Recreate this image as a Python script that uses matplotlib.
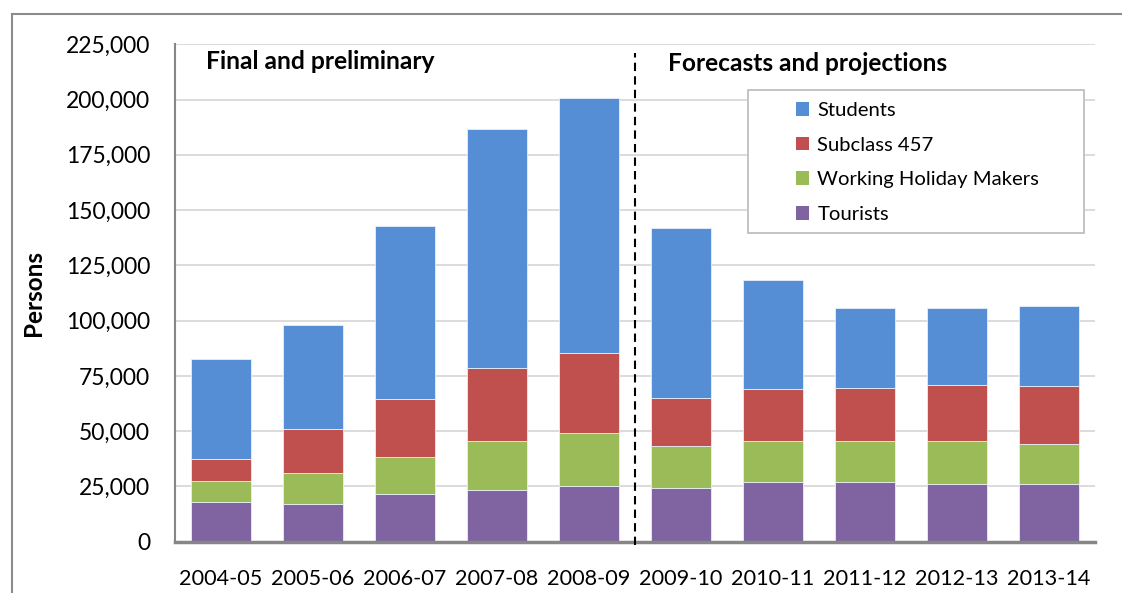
import numpy as np
import matplotlib
matplotlib.use('Agg')
import matplotlib.pyplot as plt
from matplotlib.patches import Rectangle, Patch
from matplotlib.ticker import FuncFormatter

plt.rcParams['font.family'] = ['Lato', 'DejaVu Sans']

# Datos (personas)
years = ['2004-05', '2005-06', '2006-07', '2007-08', '2008-09',
         '2009-10', '2010-11', '2011-12', '2012-13', '2013-14']
tourists = [18100, 17200, 21800, 23500, 25300, 24400, 27100, 27100, 26300, 26300]
whm = [9300, 13800, 16500, 22100, 23700, 19100, 18300, 18300, 19100, 18000]
subclass457 = [9900, 19800, 26100, 33200, 36200, 21600, 23600, 24300, 25400, 26300]
students = [45200, 47100, 78500, 107700, 115600, 76900, 49500, 36100, 35000, 36100]

series = [('Tourists', tourists, '#8064A2'),
          ('Working Holiday Makers', whm, '#9BBB59'),
          ('Subclass 457', subclass457, '#C0504D'),
          ('Students', students, '#558ED5')]

fig = plt.figure(figsize=(11.22, 5.93), dpi=100)
ax = fig.add_axes([0.156, 0.0865, 0.820, 0.8388])

# Marco exterior del grafico
fig.add_artist(plt.Line2D([0.0107, 0.0107], [0, 0.976], color='#8c8c8c', lw=1.5))
fig.add_artist(plt.Line2D([0.0107, 1.0], [0.976, 0.976], color='#8c8c8c', lw=1.5))

x = np.arange(len(years))
bottom = np.zeros(len(years))
for name, vals, col in series:
    ax.bar(x, vals, width=0.65, bottom=bottom, color=col,
           edgecolor='#e8eef8', linewidth=0.6, zorder=3)
    bottom += np.array(vals)

ax.set_xlim(-0.5, 9.5)
ax.set_ylim(0, 225000)
ax.set_yticks(np.arange(0, 225001, 25000))
ax.yaxis.set_major_formatter(FuncFormatter(lambda v, p: f'{int(v):,}'))
ax.set_xticks(x)
ax.set_xticklabels(years)
ax.tick_params(axis='y', length=0, pad=18, labelsize=16.5)
ax.tick_params(axis='x', length=0, pad=20, labelsize=15.6)

ax.grid(axis='y', color='#d9d9d9', lw=1.3, zorder=0)
ax.set_axisbelow(True)
for s in ['top', 'right']:
    ax.spines[s].set_visible(False)
ax.spines['left'].set_color('#868686')
ax.spines['left'].set_linewidth(1.5)
ax.spines['bottom'].set_color('#868686')
ax.spines['bottom'].set_linewidth(2.5)
ax.spines['bottom'].set_zorder(4)

ax.set_ylabel('Persons', fontsize=17.5, fontweight='bold')
ax.yaxis.set_label_coords(-0.141, 0.5)

# Linea divisoria entre datos finales y proyecciones
ax.plot([4.5, 4.5], [-1500, 221000], color='black', lw=1.5,
        linestyle=(0, (4, 2.5)), clip_on=False, zorder=5)

ax.text(0.034, 0.966, 'Final and preliminary', transform=ax.transAxes,
        fontsize=17.7, fontweight='bold', va='center', ha='left')
ax.text(0.536, 0.962, 'Forecasts and projections', transform=ax.transAxes,
        fontsize=17.6, fontweight='bold', va='center', ha='left')

# Caja de leyenda
box = Rectangle((0.623, 0.621), 0.3655, 0.287, transform=ax.transAxes,
                facecolor='white', edgecolor='#bfbfbf', lw=1.3, zorder=6)
ax.add_patch(box)
handles = [Patch(facecolor=c, label=n) for n, _, c in series[::-1]]
leg = ax.legend(handles=handles, loc='upper left', bbox_to_anchor=(0.675, 0.884),
                frameon=False, fontsize=14.6, handlelength=0.65, handleheight=0.65,
                handletextpad=0.4, labelspacing=0.87, borderpad=0, borderaxespad=0)
leg.set_zorder(7)

fig.savefig('out.png', dpi=100)
